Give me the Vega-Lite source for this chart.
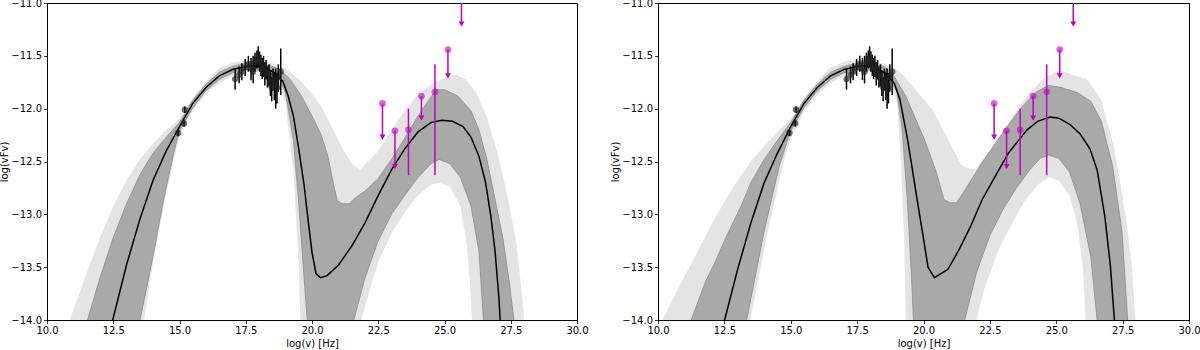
{
"$schema": "https://vega.github.io/schema/vega-lite/v6.json",
"padding": {"left": -1, "top": -3, "right": 0, "bottom": 0},
"background": "white",
"config": {
  "view": {"stroke": "black", "strokeWidth": 1},
  "font": "DejaVu Sans",
  "axis": {"labelFont": "DejaVu Sans", "titleFont": "DejaVu Sans", "labelFontSize": 10, "titleFontSize": 10, "titleFontWeight": "normal", "labelColor": "black", "titleColor": "black", "tickColor": "black", "domainColor": "black", "tickSize": 3.5, "labelPadding": 2, "grid": false, "zindex": 1, "domainWidth": 1, "tickWidth": 0.8, "labelFlush": false, "labelOverlap": false},
  "axisX": {"titlePadding": 3},
  "axisY": {"titlePadding": 1},
  "concat": {"spacing": 21}
},
"datasets": {
  "bands": [
    {"p":"L","e":"oh","x":10,"y":-14.7},{"p":"L","e":"oh","x":10.86,"y":-14.0},{"p":"L","e":"oh","x":11.5,"y":-13.55},{"p":"L","e":"oh","x":12.0,"y":-13.22},{"p":"L","e":"oh","x":12.5,"y":-12.92},{"p":"L","e":"oh","x":13.0,"y":-12.68},{"p":"L","e":"oh","x":13.5,"y":-12.48},{"p":"L","e":"oh","x":14.0,"y":-12.33},{"p":"L","e":"oh","x":14.5,"y":-12.2},{"p":"L","e":"oh","x":15.0,"y":-12.1},{"p":"L","e":"oh","x":15.5,"y":-11.9},{"p":"L","e":"oh","x":16.0,"y":-11.74},{"p":"L","e":"oh","x":16.5,"y":-11.62},{"p":"L","e":"oh","x":17.0,"y":-11.565},{"p":"L","e":"oh","x":17.5,"y":-11.545},{"p":"L","e":"oh","x":18.0,"y":-11.55},{"p":"L","e":"oh","x":18.5,"y":-11.57},{"p":"L","e":"oh","x":19.0,"y":-11.62},{"p":"L","e":"oh","x":19.5,"y":-11.72},{"p":"L","e":"oh","x":20.0,"y":-11.86},{"p":"L","e":"oh","x":20.4,"y":-12.0},{"p":"L","e":"oh","x":20.8,"y":-12.2},{"p":"L","e":"oh","x":21.2,"y":-12.4},{"p":"L","e":"oh","x":21.5,"y":-12.52},{"p":"L","e":"oh","x":21.8,"y":-12.58},{"p":"L","e":"oh","x":22.1,"y":-12.5},{"p":"L","e":"oh","x":22.5,"y":-12.4},{"p":"L","e":"oh","x":23.0,"y":-12.2},{"p":"L","e":"oh","x":23.5,"y":-12.02},{"p":"L","e":"oh","x":24.0,"y":-11.87},{"p":"L","e":"oh","x":24.5,"y":-11.77},{"p":"L","e":"oh","x":25.0,"y":-11.71},{"p":"L","e":"oh","x":25.4,"y":-11.68},{"p":"L","e":"oh","x":25.8,"y":-11.72},{"p":"L","e":"oh","x":26.2,"y":-11.85},{"p":"L","e":"oh","x":26.6,"y":-12.08},{"p":"L","e":"oh","x":27.0,"y":-12.42},{"p":"L","e":"oh","x":27.4,"y":-12.85},{"p":"L","e":"oh","x":27.7,"y":-13.25},{"p":"L","e":"oh","x":27.9,"y":-13.7},{"p":"L","e":"oh","x":28.0,"y":-14.0},{"p":"L","e":"oh","x":28.1,"y":-14.5},{"p":"L","e":"oh","x":30,"y":-15},

    {"p":"L","e":"ih","x":10,"y":-15},{"p":"L","e":"ih","x":11.2,"y":-14.5},{"p":"L","e":"ih","x":11.53,"y":-14.0},{"p":"L","e":"ih","x":12.0,"y":-13.6},{"p":"L","e":"ih","x":12.5,"y":-13.22},{"p":"L","e":"ih","x":13.0,"y":-12.9},{"p":"L","e":"ih","x":13.5,"y":-12.63},{"p":"L","e":"ih","x":14.0,"y":-12.42},{"p":"L","e":"ih","x":14.5,"y":-12.27},{"p":"L","e":"ih","x":15.0,"y":-12.13},{"p":"L","e":"ih","x":15.5,"y":-11.92},{"p":"L","e":"ih","x":16.0,"y":-11.77},{"p":"L","e":"ih","x":16.5,"y":-11.655},{"p":"L","e":"ih","x":17.0,"y":-11.6},{"p":"L","e":"ih","x":17.5,"y":-11.57},{"p":"L","e":"ih","x":18.0,"y":-11.575},{"p":"L","e":"ih","x":18.5,"y":-11.6},{"p":"L","e":"ih","x":18.8,"y":-11.63},{"p":"L","e":"ih","x":19.2,"y":-11.73},{"p":"L","e":"ih","x":19.6,"y":-11.88},{"p":"L","e":"ih","x":20.0,"y":-12.07},{"p":"L","e":"ih","x":20.35,"y":-12.25},{"p":"L","e":"ih","x":20.6,"y":-12.45},{"p":"L","e":"ih","x":20.8,"y":-12.7},{"p":"L","e":"ih","x":20.95,"y":-12.87},{"p":"L","e":"ih","x":21.15,"y":-12.9},{"p":"L","e":"ih","x":21.4,"y":-12.9},{"p":"L","e":"ih","x":21.6,"y":-12.85},{"p":"L","e":"ih","x":22.0,"y":-12.78},{"p":"L","e":"ih","x":22.5,"y":-12.66},{"p":"L","e":"ih","x":23.0,"y":-12.48},{"p":"L","e":"ih","x":23.5,"y":-12.28},{"p":"L","e":"ih","x":24.0,"y":-12.07},{"p":"L","e":"ih","x":24.4,"y":-11.92},{"p":"L","e":"ih","x":24.7,"y":-11.82},{"p":"L","e":"ih","x":25.0,"y":-11.82},{"p":"L","e":"ih","x":25.5,"y":-11.88},{"p":"L","e":"ih","x":26.0,"y":-12.02},{"p":"L","e":"ih","x":26.3,"y":-12.2},{"p":"L","e":"ih","x":26.6,"y":-12.48},{"p":"L","e":"ih","x":26.9,"y":-12.85},{"p":"L","e":"ih","x":27.2,"y":-13.22},{"p":"L","e":"ih","x":27.45,"y":-13.65},{"p":"L","e":"ih","x":27.62,"y":-14.0},{"p":"L","e":"ih","x":27.8,"y":-14.5},{"p":"L","e":"ih","x":30,"y":-15},

    {"p":"L","e":"il","x":10,"y":-15},{"p":"L","e":"il","x":13.2,"y":-14.6},{"p":"L","e":"il","x":13.51,"y":-14.0},{"p":"L","e":"il","x":14.0,"y":-13.4},{"p":"L","e":"il","x":14.4,"y":-12.86},{"p":"L","e":"il","x":14.8,"y":-12.4},{"p":"L","e":"il","x":15.0,"y":-12.21},{"p":"L","e":"il","x":15.5,"y":-11.99},{"p":"L","e":"il","x":16.0,"y":-11.83},{"p":"L","e":"il","x":16.5,"y":-11.725},{"p":"L","e":"il","x":17.0,"y":-11.66},{"p":"L","e":"il","x":17.5,"y":-11.63},{"p":"L","e":"il","x":18.0,"y":-11.635},{"p":"L","e":"il","x":18.5,"y":-11.68},{"p":"L","e":"il","x":18.8,"y":-11.73},{"p":"L","e":"il","x":19.0,"y":-11.85},{"p":"L","e":"il","x":19.3,"y":-12.3},{"p":"L","e":"il","x":19.5,"y":-12.9},{"p":"L","e":"il","x":19.7,"y":-13.6},{"p":"L","e":"il","x":19.82,"y":-14.0},{"p":"L","e":"il","x":20.0,"y":-14.7},{"p":"L","e":"il","x":21.4,"y":-14.7},{"p":"L","e":"il","x":21.58,"y":-14.0},{"p":"L","e":"il","x":22.0,"y":-13.6},{"p":"L","e":"il","x":22.5,"y":-13.25},{"p":"L","e":"il","x":23.0,"y":-13.0},{"p":"L","e":"il","x":23.5,"y":-12.82},{"p":"L","e":"il","x":24.0,"y":-12.65},{"p":"L","e":"il","x":24.5,"y":-12.52},{"p":"L","e":"il","x":24.8,"y":-12.48},{"p":"L","e":"il","x":25.2,"y":-12.52},{"p":"L","e":"il","x":25.6,"y":-12.65},{"p":"L","e":"il","x":26.0,"y":-12.92},{"p":"L","e":"il","x":26.3,"y":-13.35},{"p":"L","e":"il","x":26.47,"y":-14.0},{"p":"L","e":"il","x":26.6,"y":-14.6},{"p":"L","e":"il","x":30,"y":-15},

    {"p":"L","e":"ol","x":10,"y":-15},{"p":"L","e":"ol","x":13.3,"y":-14.6},{"p":"L","e":"ol","x":13.66,"y":-14.0},{"p":"L","e":"ol","x":14.0,"y":-13.45},{"p":"L","e":"ol","x":14.5,"y":-12.8},{"p":"L","e":"ol","x":15.0,"y":-12.25},{"p":"L","e":"ol","x":15.5,"y":-12.02},{"p":"L","e":"ol","x":16.0,"y":-11.86},{"p":"L","e":"ol","x":16.5,"y":-11.76},{"p":"L","e":"ol","x":17.0,"y":-11.69},{"p":"L","e":"ol","x":17.5,"y":-11.65},{"p":"L","e":"ol","x":18.0,"y":-11.65},{"p":"L","e":"ol","x":18.5,"y":-11.71},{"p":"L","e":"ol","x":18.8,"y":-11.78},{"p":"L","e":"ol","x":19.0,"y":-11.95},{"p":"L","e":"ol","x":19.3,"y":-12.6},{"p":"L","e":"ol","x":19.5,"y":-13.5},{"p":"L","e":"ol","x":19.56,"y":-14.0},{"p":"L","e":"ol","x":19.7,"y":-14.8},{"p":"L","e":"ol","x":21.7,"y":-14.8},{"p":"L","e":"ol","x":21.86,"y":-14.0},{"p":"L","e":"ol","x":22.2,"y":-13.7},{"p":"L","e":"ol","x":22.5,"y":-13.45},{"p":"L","e":"ol","x":23.0,"y":-13.18},{"p":"L","e":"ol","x":23.5,"y":-12.98},{"p":"L","e":"ol","x":24.0,"y":-12.82},{"p":"L","e":"ol","x":24.5,"y":-12.72},{"p":"L","e":"ol","x":24.8,"y":-12.7},{"p":"L","e":"ol","x":25.2,"y":-12.74},{"p":"L","e":"ol","x":25.6,"y":-12.92},{"p":"L","e":"ol","x":25.85,"y":-13.3},{"p":"L","e":"ol","x":26.0,"y":-13.8},{"p":"L","e":"ol","x":26.04,"y":-14.0},{"p":"L","e":"ol","x":26.2,"y":-14.8},{"p":"L","e":"ol","x":30,"y":-15},

    {"p":"L","e":"med","x":12.4,"y":-14.15},{"p":"L","e":"med","x":12.48,"y":-14.0},{"p":"L","e":"med","x":13.0,"y":-13.48},{"p":"L","e":"med","x":13.5,"y":-13.05},{"p":"L","e":"med","x":14.0,"y":-12.68},{"p":"L","e":"med","x":14.5,"y":-12.4},{"p":"L","e":"med","x":15.0,"y":-12.17},{"p":"L","e":"med","x":15.5,"y":-11.95},{"p":"L","e":"med","x":16.0,"y":-11.8},{"p":"L","e":"med","x":16.5,"y":-11.69},{"p":"L","e":"med","x":17.0,"y":-11.63},{"p":"L","e":"med","x":17.5,"y":-11.6},{"p":"L","e":"med","x":17.8,"y":-11.595},{"p":"L","e":"med","x":18.2,"y":-11.61},{"p":"L","e":"med","x":18.6,"y":-11.66},{"p":"L","e":"med","x":18.9,"y":-11.74},{"p":"L","e":"med","x":19.1,"y":-11.88},{"p":"L","e":"med","x":19.3,"y":-12.07},{"p":"L","e":"med","x":19.5,"y":-12.38},{"p":"L","e":"med","x":19.7,"y":-12.72},{"p":"L","e":"med","x":19.85,"y":-13.05},{"p":"L","e":"med","x":20.0,"y":-13.36},{"p":"L","e":"med","x":20.15,"y":-13.56},{"p":"L","e":"med","x":20.32,"y":-13.6},{"p":"L","e":"med","x":20.57,"y":-13.58},{"p":"L","e":"med","x":21.0,"y":-13.48},{"p":"L","e":"med","x":21.5,"y":-13.3},{"p":"L","e":"med","x":22.0,"y":-13.08},{"p":"L","e":"med","x":22.5,"y":-12.82},{"p":"L","e":"med","x":23.0,"y":-12.58},{"p":"L","e":"med","x":23.5,"y":-12.38},{"p":"L","e":"med","x":24.0,"y":-12.22},{"p":"L","e":"med","x":24.5,"y":-12.13},{"p":"L","e":"med","x":24.9,"y":-12.11},{"p":"L","e":"med","x":25.3,"y":-12.12},{"p":"L","e":"med","x":25.7,"y":-12.17},{"p":"L","e":"med","x":26.0,"y":-12.27},{"p":"L","e":"med","x":26.3,"y":-12.45},{"p":"L","e":"med","x":26.55,"y":-12.7},{"p":"L","e":"med","x":26.75,"y":-13.02},{"p":"L","e":"med","x":26.9,"y":-13.33},{"p":"L","e":"med","x":27.05,"y":-13.78},{"p":"L","e":"med","x":27.1,"y":-14.0},{"p":"L","e":"med","x":27.15,"y":-14.3},

    {"p":"R","e":"oh","x":10,"y":-14.3},{"p":"R","e":"oh","x":10.17,"y":-14.0},{"p":"R","e":"oh","x":10.8,"y":-13.68},{"p":"R","e":"oh","x":11.5,"y":-13.35},{"p":"R","e":"oh","x":12.0,"y":-13.1},{"p":"R","e":"oh","x":12.5,"y":-12.88},{"p":"R","e":"oh","x":13.0,"y":-12.68},{"p":"R","e":"oh","x":13.5,"y":-12.5},{"p":"R","e":"oh","x":14.0,"y":-12.35},{"p":"R","e":"oh","x":14.5,"y":-12.22},{"p":"R","e":"oh","x":15.0,"y":-12.1},{"p":"R","e":"oh","x":15.5,"y":-11.9},{"p":"R","e":"oh","x":16.0,"y":-11.74},{"p":"R","e":"oh","x":16.5,"y":-11.61},{"p":"R","e":"oh","x":17.0,"y":-11.555},{"p":"R","e":"oh","x":17.5,"y":-11.54},{"p":"R","e":"oh","x":18.0,"y":-11.55},{"p":"R","e":"oh","x":18.5,"y":-11.57},{"p":"R","e":"oh","x":19.0,"y":-11.63},{"p":"R","e":"oh","x":19.3,"y":-11.7},{"p":"R","e":"oh","x":19.8,"y":-11.85},{"p":"R","e":"oh","x":20.34,"y":-12.01},{"p":"R","e":"oh","x":20.92,"y":-12.29},{"p":"R","e":"oh","x":21.42,"y":-12.53},{"p":"R","e":"oh","x":21.7,"y":-12.57},{"p":"R","e":"oh","x":21.95,"y":-12.57},{"p":"R","e":"oh","x":22.3,"y":-12.46},{"p":"R","e":"oh","x":22.65,"y":-12.36},{"p":"R","e":"oh","x":23.0,"y":-12.22},{"p":"R","e":"oh","x":23.5,"y":-12.02},{"p":"R","e":"oh","x":24.0,"y":-11.85},{"p":"R","e":"oh","x":24.5,"y":-11.72},{"p":"R","e":"oh","x":25.0,"y":-11.65},{"p":"R","e":"oh","x":25.2,"y":-11.64},{"p":"R","e":"oh","x":25.6,"y":-11.68},{"p":"R","e":"oh","x":26.15,"y":-11.72},{"p":"R","e":"oh","x":26.7,"y":-11.92},{"p":"R","e":"oh","x":27.2,"y":-12.39},{"p":"R","e":"oh","x":27.62,"y":-13.02},{"p":"R","e":"oh","x":27.85,"y":-13.5},{"p":"R","e":"oh","x":27.98,"y":-14.0},{"p":"R","e":"oh","x":28.1,"y":-14.6},{"p":"R","e":"oh","x":30,"y":-15},

    {"p":"R","e":"ih","x":10,"y":-15},{"p":"R","e":"ih","x":11.0,"y":-14.5},{"p":"R","e":"ih","x":11.25,"y":-14.0},{"p":"R","e":"ih","x":11.8,"y":-13.63},{"p":"R","e":"ih","x":12.12,"y":-13.47},{"p":"R","e":"ih","x":12.5,"y":-13.25},{"p":"R","e":"ih","x":13.13,"y":-12.92},{"p":"R","e":"ih","x":13.5,"y":-12.7},{"p":"R","e":"ih","x":14.0,"y":-12.48},{"p":"R","e":"ih","x":14.5,"y":-12.3},{"p":"R","e":"ih","x":15.0,"y":-12.13},{"p":"R","e":"ih","x":15.5,"y":-11.92},{"p":"R","e":"ih","x":16.0,"y":-11.77},{"p":"R","e":"ih","x":16.5,"y":-11.655},{"p":"R","e":"ih","x":17.0,"y":-11.6},{"p":"R","e":"ih","x":17.5,"y":-11.57},{"p":"R","e":"ih","x":18.0,"y":-11.575},{"p":"R","e":"ih","x":18.5,"y":-11.6},{"p":"R","e":"ih","x":18.82,"y":-11.66},{"p":"R","e":"ih","x":19.33,"y":-11.88},{"p":"R","e":"ih","x":20.05,"y":-12.3},{"p":"R","e":"ih","x":20.48,"y":-12.6},{"p":"R","e":"ih","x":20.77,"y":-12.86},{"p":"R","e":"ih","x":21.0,"y":-12.89},{"p":"R","e":"ih","x":21.25,"y":-12.89},{"p":"R","e":"ih","x":21.56,"y":-12.77},{"p":"R","e":"ih","x":22.21,"y":-12.51},{"p":"R","e":"ih","x":23.0,"y":-12.22},{"p":"R","e":"ih","x":23.65,"y":-12.0},{"p":"R","e":"ih","x":24.2,"y":-11.85},{"p":"R","e":"ih","x":24.7,"y":-11.78},{"p":"R","e":"ih","x":25.2,"y":-11.8},{"p":"R","e":"ih","x":25.8,"y":-11.85},{"p":"R","e":"ih","x":26.3,"y":-11.93},{"p":"R","e":"ih","x":26.7,"y":-12.12},{"p":"R","e":"ih","x":27.12,"y":-12.54},{"p":"R","e":"ih","x":27.48,"y":-13.17},{"p":"R","e":"ih","x":27.69,"y":-14.0},{"p":"R","e":"ih","x":27.8,"y":-14.5},{"p":"R","e":"ih","x":30,"y":-15},

    {"p":"R","e":"il","x":10,"y":-15},{"p":"R","e":"il","x":13.0,"y":-14.6},{"p":"R","e":"il","x":13.34,"y":-14.0},{"p":"R","e":"il","x":13.99,"y":-13.17},{"p":"R","e":"il","x":14.57,"y":-12.54},{"p":"R","e":"il","x":14.93,"y":-12.26},{"p":"R","e":"il","x":15.0,"y":-12.21},{"p":"R","e":"il","x":15.5,"y":-11.99},{"p":"R","e":"il","x":16.0,"y":-11.83},{"p":"R","e":"il","x":16.5,"y":-11.725},{"p":"R","e":"il","x":17.0,"y":-11.66},{"p":"R","e":"il","x":17.5,"y":-11.63},{"p":"R","e":"il","x":18.0,"y":-11.635},{"p":"R","e":"il","x":18.5,"y":-11.68},{"p":"R","e":"il","x":18.8,"y":-11.73},{"p":"R","e":"il","x":19.0,"y":-11.85},{"p":"R","e":"il","x":19.2,"y":-12.2},{"p":"R","e":"il","x":19.4,"y":-12.9},{"p":"R","e":"il","x":19.55,"y":-13.6},{"p":"R","e":"il","x":19.62,"y":-14.0},{"p":"R","e":"il","x":19.8,"y":-14.7},{"p":"R","e":"il","x":21.4,"y":-14.7},{"p":"R","e":"il","x":21.55,"y":-14.0},{"p":"R","e":"il","x":22.0,"y":-13.55},{"p":"R","e":"il","x":22.5,"y":-13.2},{"p":"R","e":"il","x":23.0,"y":-12.95},{"p":"R","e":"il","x":23.5,"y":-12.75},{"p":"R","e":"il","x":24.0,"y":-12.58},{"p":"R","e":"il","x":24.4,"y":-12.47},{"p":"R","e":"il","x":24.7,"y":-12.44},{"p":"R","e":"il","x":25.1,"y":-12.47},{"p":"R","e":"il","x":25.5,"y":-12.6},{"p":"R","e":"il","x":25.9,"y":-12.9},{"p":"R","e":"il","x":26.3,"y":-13.4},{"p":"R","e":"il","x":26.54,"y":-14.0},{"p":"R","e":"il","x":26.7,"y":-14.6},{"p":"R","e":"il","x":30,"y":-15},

    {"p":"R","e":"ol","x":10,"y":-15},{"p":"R","e":"ol","x":13.1,"y":-14.6},{"p":"R","e":"ol","x":13.48,"y":-14.0},{"p":"R","e":"ol","x":14.13,"y":-13.17},{"p":"R","e":"ol","x":14.7,"y":-12.54},{"p":"R","e":"ol","x":15.0,"y":-12.28},{"p":"R","e":"ol","x":15.5,"y":-12.03},{"p":"R","e":"ol","x":16.0,"y":-11.87},{"p":"R","e":"ol","x":16.5,"y":-11.76},{"p":"R","e":"ol","x":17.0,"y":-11.69},{"p":"R","e":"ol","x":17.5,"y":-11.65},{"p":"R","e":"ol","x":18.0,"y":-11.65},{"p":"R","e":"ol","x":18.5,"y":-11.71},{"p":"R","e":"ol","x":18.8,"y":-11.78},{"p":"R","e":"ol","x":19.0,"y":-11.95},{"p":"R","e":"ol","x":19.15,"y":-12.5},{"p":"R","e":"ol","x":19.28,"y":-13.3},{"p":"R","e":"ol","x":19.33,"y":-14.0},{"p":"R","e":"ol","x":19.5,"y":-14.8},{"p":"R","e":"ol","x":21.8,"y":-14.8},{"p":"R","e":"ol","x":22.0,"y":-14.0},{"p":"R","e":"ol","x":22.3,"y":-13.7},{"p":"R","e":"ol","x":22.8,"y":-13.35},{"p":"R","e":"ol","x":23.3,"y":-13.1},{"p":"R","e":"ol","x":23.8,"y":-12.88},{"p":"R","e":"ol","x":24.3,"y":-12.72},{"p":"R","e":"ol","x":24.7,"y":-12.65},{"p":"R","e":"ol","x":25.1,"y":-12.68},{"p":"R","e":"ol","x":25.5,"y":-12.82},{"p":"R","e":"ol","x":25.8,"y":-13.1},{"p":"R","e":"ol","x":26.0,"y":-13.5},{"p":"R","e":"ol","x":26.11,"y":-14.0},{"p":"R","e":"ol","x":26.3,"y":-14.6},{"p":"R","e":"ol","x":30,"y":-15},

    {"p":"R","e":"med","x":12.4,"y":-14.12},{"p":"R","e":"med","x":12.51,"y":-14.0},{"p":"R","e":"med","x":13.0,"y":-13.52},{"p":"R","e":"med","x":13.5,"y":-13.08},{"p":"R","e":"med","x":14.0,"y":-12.7},{"p":"R","e":"med","x":14.5,"y":-12.42},{"p":"R","e":"med","x":15.0,"y":-12.17},{"p":"R","e":"med","x":15.5,"y":-11.95},{"p":"R","e":"med","x":16.0,"y":-11.8},{"p":"R","e":"med","x":16.5,"y":-11.69},{"p":"R","e":"med","x":17.0,"y":-11.63},{"p":"R","e":"med","x":17.5,"y":-11.6},{"p":"R","e":"med","x":17.8,"y":-11.595},{"p":"R","e":"med","x":18.2,"y":-11.61},{"p":"R","e":"med","x":18.6,"y":-11.67},{"p":"R","e":"med","x":18.9,"y":-11.76},{"p":"R","e":"med","x":19.11,"y":-11.91},{"p":"R","e":"med","x":19.4,"y":-12.29},{"p":"R","e":"med","x":19.76,"y":-12.86},{"p":"R","e":"med","x":19.98,"y":-13.2},{"p":"R","e":"med","x":20.17,"y":-13.5},{"p":"R","e":"med","x":20.41,"y":-13.6},{"p":"R","e":"med","x":20.92,"y":-13.52},{"p":"R","e":"med","x":21.35,"y":-13.33},{"p":"R","e":"med","x":21.78,"y":-13.11},{"p":"R","e":"med","x":22.21,"y":-12.86},{"p":"R","e":"med","x":22.79,"y":-12.6},{"p":"R","e":"med","x":23.2,"y":-12.42},{"p":"R","e":"med","x":23.9,"y":-12.2},{"p":"R","e":"med","x":24.3,"y":-12.12},{"p":"R","e":"med","x":24.76,"y":-12.08},{"p":"R","e":"med","x":25.1,"y":-12.09},{"p":"R","e":"med","x":25.52,"y":-12.15},{"p":"R","e":"med","x":25.9,"y":-12.24},{"p":"R","e":"med","x":26.27,"y":-12.38},{"p":"R","e":"med","x":26.54,"y":-12.58},{"p":"R","e":"med","x":26.83,"y":-13.02},{"p":"R","e":"med","x":27.04,"y":-13.49},{"p":"R","e":"med","x":27.19,"y":-14.0},{"p":"R","e":"med","x":27.25,"y":-14.3}
  ],
  "pts": [
    {"x":14.95,"y":-12.23,"lo":-12.26,"hi":-12.2},{"x":15.17,"y":-12.14,"lo":-12.17,"hi":-12.11},{"x":15.2,"y":-12.01,"lo":-12.04,"hi":-11.98},
    {"x":17.1,"y":-11.72,"lo":-11.82,"hi":-11.62},{"x":17.25,"y":-11.68,"lo":-11.76,"hi":-11.6},{"x":17.35,"y":-11.65,"lo":-11.73,"hi":-11.57},{"x":17.48,"y":-11.61,"lo":-11.69,"hi":-11.53},{"x":17.6,"y":-11.58,"lo":-11.65,"hi":-11.5},{"x":17.7,"y":-11.62,"lo":-11.73,"hi":-11.52},{"x":17.78,"y":-11.65,"lo":-11.76,"hi":-11.5},{"x":17.85,"y":-11.57,"lo":-11.65,"hi":-11.47},{"x":17.92,"y":-11.53,"lo":-11.62,"hi":-11.45},{"x":17.97,"y":-11.52,"lo":-11.61,"hi":-11.41},{"x":18.02,"y":-11.55,"lo":-11.65,"hi":-11.46},{"x":18.07,"y":-11.59,"lo":-11.69,"hi":-11.49},{"x":18.12,"y":-11.62,"lo":-11.72,"hi":-11.52},{"x":18.17,"y":-11.6,"lo":-11.7,"hi":-11.5},{"x":18.22,"y":-11.66,"lo":-11.78,"hi":-11.56},{"x":18.27,"y":-11.63,"lo":-11.72,"hi":-11.54},{"x":18.32,"y":-11.7,"lo":-11.8,"hi":-11.6},{"x":18.38,"y":-11.68,"lo":-11.79,"hi":-11.58},{"x":18.43,"y":-11.76,"lo":-11.88,"hi":-11.64},{"x":18.48,"y":-11.8,"lo":-11.93,"hi":-11.7},{"x":18.53,"y":-11.72,"lo":-11.83,"hi":-11.62},{"x":18.58,"y":-11.78,"lo":-11.92,"hi":-11.66},{"x":18.63,"y":-11.74,"lo":-12.0,"hi":-11.62},{"x":18.68,"y":-11.8,"lo":-11.95,"hi":-11.66},{"x":18.73,"y":-11.7,"lo":-11.84,"hi":-11.58},{"x":18.82,"y":-11.65,"lo":-11.87,"hi":-11.43}
  ],
  "ul": [
    {"x":22.66,"y":-11.95,"top":-11.95,"bot":-12.25,"kind":"ul"},
    {"x":23.13,"y":-12.21,"top":-12.21,"bot":-12.53,"kind":"ul"},
    {"x":23.64,"y":-12.2,"top":-12.0,"bot":-12.63,"kind":"det"},
    {"x":24.13,"y":-11.88,"top":-11.88,"bot":-12.07,"kind":"ul"},
    {"x":24.64,"y":-11.84,"top":-11.58,"bot":-12.63,"kind":"det"},
    {"x":25.13,"y":-11.44,"top":-11.44,"bot":-11.67,"kind":"ul"},
    {"x":25.64,"y":-10.93,"top":-10.93,"bot":-11.18,"kind":"ul"}
  ]
},
"hconcat": [
  {
    "width": 530, "height": 317,
    "encoding": {
      "x": {"field": "x", "type": "quantitative", "scale": {"domain": [10, 30], "nice": false, "zero": false}, "axis": {"values": [10, 12.5, 15, 17.5, 20, 22.5, 25, 27.5, 30], "format": ".1f", "title": "log(v) [Hz]"}},
      "y": {"field": "y", "type": "quantitative", "scale": {"domain": [-14, -11], "nice": false, "zero": false}, "axis": {"values": [-14, -13.5, -13, -12.5, -12, -11.5, -11], "format": ".1f", "title": "log(vFv)"}}
    },
    "layer": [
      {"data": {"name": "bands"}, "transform": [{"filter": "datum.p == 'L' && datum.e == 'oh'"}], "mark": {"type": "area", "color": "#e4e4e4", "clip": true, "opacity": 1}, "encoding": {"y2": {"datum": -15}}},
      {"data": {"name": "bands"}, "transform": [{"filter": "datum.p == 'L' && datum.e == 'ih'"}], "mark": {"type": "area", "color": "#a9a9a9", "clip": true, "opacity": 1}, "encoding": {"y2": {"datum": -15}}},
      {"data": {"name": "bands"}, "transform": [{"filter": "datum.p == 'L' && datum.e == 'il'"}], "mark": {"type": "area", "color": "#e4e4e4", "clip": true, "opacity": 1}, "encoding": {"y2": {"datum": -15}}},
      {"data": {"name": "bands"}, "transform": [{"filter": "datum.p == 'L' && datum.e == 'ol'"}], "mark": {"type": "area", "color": "white", "clip": true, "opacity": 1}, "encoding": {"y2": {"datum": -15}}},
      {"data": {"name": "bands"}, "transform": [{"filter": "datum.p == 'L' && (datum.e == 'ih' || datum.e == 'il')"}], "mark": {"type": "line", "color": "#8c8c8c", "strokeWidth": 0.8, "clip": true}, "encoding": {"detail": {"field": "e"}}},
      {"data": {"name": "bands"}, "transform": [{"filter": "datum.p == 'L' && datum.e == 'med'"}], "mark": {"type": "line", "color": "black", "strokeWidth": 1.5, "clip": true}, "encoding": {}},
      {"data": {"name": "pts"}, "mark": {"type": "rule", "color": "black", "strokeWidth": 1.5, "clip": true}, "encoding": {"y": {"field": "lo", "type": "quantitative"}, "y2": {"field": "hi"}}},
      {"data": {"name": "pts"}, "mark": {"type": "circle", "color": "#222222", "opacity": 0.65, "size": 40, "clip": true}, "encoding": {}},
      {"data": {"name": "ul"}, "mark": {"type": "rule", "color": "#c000c0", "strokeWidth": 1.5, "clip": true}, "encoding": {"y": {"field": "top", "type": "quantitative"}, "y2": {"field": "bot"}}},
      {"data": {"name": "ul"}, "mark": {"type": "circle", "color": "#c000c0", "opacity": 0.6, "size": 45, "clip": true}, "encoding": {}},
      {"data": {"name": "ul"}, "transform": [{"filter": "datum.kind == 'ul'"}], "mark": {"type": "point", "shape": "triangle-down", "filled": true, "color": "#c000c0", "opacity": 1, "size": 36, "yOffset": 2, "clip": true}, "encoding": {"y": {"field": "bot", "type": "quantitative"}}}
    ]
  },
  {
    "width": 531, "height": 317,
    "encoding": {
      "x": {"field": "x", "type": "quantitative", "scale": {"domain": [10, 30], "nice": false, "zero": false}, "axis": {"values": [10, 12.5, 15, 17.5, 20, 22.5, 25, 27.5, 30], "format": ".1f", "title": "log(v) [Hz]"}},
      "y": {"field": "y", "type": "quantitative", "scale": {"domain": [-14, -11], "nice": false, "zero": false}, "axis": {"values": [-14, -13.5, -13, -12.5, -12, -11.5, -11], "format": ".1f", "title": "log(vFv)"}}
    },
    "layer": [
      {"data": {"name": "bands"}, "transform": [{"filter": "datum.p == 'R' && datum.e == 'oh'"}], "mark": {"type": "area", "color": "#e4e4e4", "clip": true, "opacity": 1}, "encoding": {"y2": {"datum": -15}}},
      {"data": {"name": "bands"}, "transform": [{"filter": "datum.p == 'R' && datum.e == 'ih'"}], "mark": {"type": "area", "color": "#a9a9a9", "clip": true, "opacity": 1}, "encoding": {"y2": {"datum": -15}}},
      {"data": {"name": "bands"}, "transform": [{"filter": "datum.p == 'R' && datum.e == 'il'"}], "mark": {"type": "area", "color": "#e4e4e4", "clip": true, "opacity": 1}, "encoding": {"y2": {"datum": -15}}},
      {"data": {"name": "bands"}, "transform": [{"filter": "datum.p == 'R' && datum.e == 'ol'"}], "mark": {"type": "area", "color": "white", "clip": true, "opacity": 1}, "encoding": {"y2": {"datum": -15}}},
      {"data": {"name": "bands"}, "transform": [{"filter": "datum.p == 'R' && (datum.e == 'ih' || datum.e == 'il')"}], "mark": {"type": "line", "color": "#8c8c8c", "strokeWidth": 0.8, "clip": true}, "encoding": {"detail": {"field": "e"}}},
      {"data": {"name": "bands"}, "transform": [{"filter": "datum.p == 'R' && datum.e == 'med'"}], "mark": {"type": "line", "color": "black", "strokeWidth": 1.5, "clip": true}, "encoding": {}},
      {"data": {"name": "pts"}, "mark": {"type": "rule", "color": "black", "strokeWidth": 1.5, "clip": true}, "encoding": {"y": {"field": "lo", "type": "quantitative"}, "y2": {"field": "hi"}}},
      {"data": {"name": "pts"}, "mark": {"type": "circle", "color": "#222222", "opacity": 0.65, "size": 40, "clip": true}, "encoding": {}},
      {"data": {"name": "ul"}, "mark": {"type": "rule", "color": "#c000c0", "strokeWidth": 1.5, "clip": true}, "encoding": {"y": {"field": "top", "type": "quantitative"}, "y2": {"field": "bot"}}},
      {"data": {"name": "ul"}, "mark": {"type": "circle", "color": "#c000c0", "opacity": 0.6, "size": 45, "clip": true}, "encoding": {}},
      {"data": {"name": "ul"}, "transform": [{"filter": "datum.kind == 'ul'"}], "mark": {"type": "point", "shape": "triangle-down", "filled": true, "color": "#c000c0", "opacity": 1, "size": 36, "yOffset": 2, "clip": true}, "encoding": {"y": {"field": "bot", "type": "quantitative"}}}
    ]
  }
]
}
